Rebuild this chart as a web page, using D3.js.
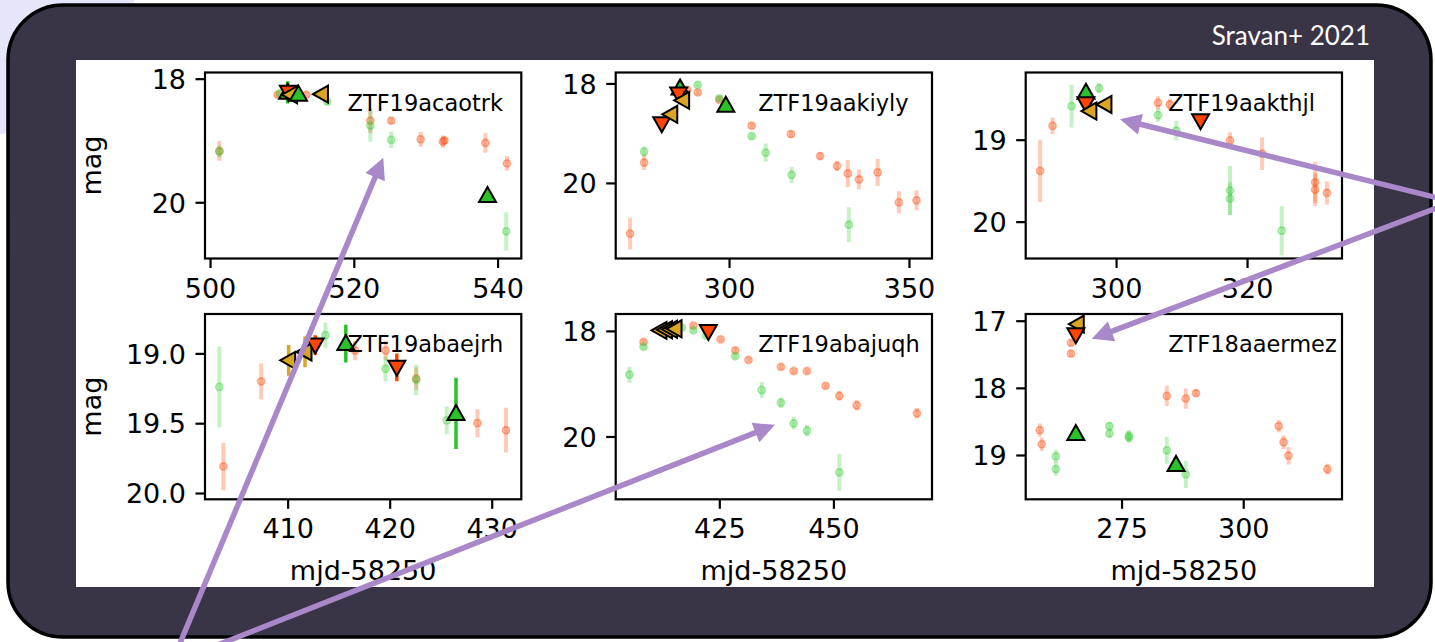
<!DOCTYPE html>
<html>
<head>
<meta charset="utf-8">
<script src="https://cdn.jsdelivr.net/npm/d3@7"></script>
<style>
  html, body { margin: 0; padding: 0; background: #fff; }
  svg { display: block; }
</style>
</head>
<body>
<svg id="c" width="1435" height="642"></svg>
<script>
// ---------------- data ----------------
const names = ["ZTF19acaotrk", "ZTF19aakiyly", "ZTF19aakthjl",
               "ZTF19abaejrh", "ZTF19abajuqh", "ZTF18aaermez"];

const xDomains = [[499.3, 543.3], [268.5, 356.4], [286.2, 334.5],
                  [401.9, 432.9], [402.3, 471.6], [255.3, 320.3]];
const yDomains = [[17.90, 20.91], [17.78, 21.52], [18.18, 20.45],
                  [18.718, 20.045], [17.68, 21.19], [16.90, 19.66]];

const xTickVals = [[500, 520, 540], [300, 350], [300, 320],
                   [410, 420, 430], [425, 450], [275, 300]];
const yTickVals = [[18, 20], [18, 20], [19, 20],
                   [19.0, 19.5, 20.0], [18, 20], [17, 18, 19]];
const yTickFormats = ["d", "d", "d", ".1f", "d", "d"];

// photometry rows: [mjd-58250, mag, err]
const acaotrk_r = [[501.3,19.17,0.16],[509.4,18.26,0.05],[513.4,18.26,0.05],[522.3,18.68,0.20],
  [525.2,18.68,0.05],[529.3,18.98,0.12],[532.4,19.02,0.10],[532.6,19.00,0.06],[538.3,19.04,0.16],[541.3,19.37,0.12]];
const acaotrk_g = [[501.3,19.18,0.10],[509.7,18.24,0.05],[516.3,18.37,0.05],[522.3,18.76,0.26],
  [525.2,18.99,0.13],[538.6,19.93,0.04],[541.2,20.47,0.31]];
const acaotrk_tri = [["up",510.8,18.22,0.18],["down",510.9,18.22,0],["left",511.2,18.26,0],
  ["up",512.3,18.25,0],["left",515.5,18.25,0],["up",538.6,19.89,0]];

const aakiyly_r = [[272.5,21.02,0.32],[276.4,19.59,0.15],[288.4,18.13,0.05],[291.3,18.18,0.05],
  [297.3,18.33,0.05],[306.3,18.85,0.06],[317.2,19.02,0.07],[325.3,19.46,0.07],[330.0,19.66,0.10],
  [333.0,19.81,0.27],[336.1,19.93,0.20],[341.3,19.79,0.27],[347.2,20.39,0.22],[352.1,20.35,0.20]];
const aakiyly_g = [[276.4,19.37,0.10],[291.3,18.03,0.05],[297.3,18.30,0.05],[306.3,19.06,0.06],
  [310.2,19.39,0.18],[317.4,19.84,0.16],[333.3,20.84,0.35]];
const aakiyly_tri = [["down",281.3,18.81,0],["left",283.8,18.62,0],["up",286.4,18.09,0],
  ["down",286.0,18.21,0],["left",287.1,18.34,0],["up",299.1,18.44,0]];

const aakthjl_r = [[288.4,19.38,0.38],[290.3,18.83,0.10],[306.4,18.55,0.08],[308.2,18.57,0.07],
  [317.4,19.01,0.10],[322.3,19.17,0.20],[330.4,19.52,0.25],[330.4,19.61,0.20],[332.2,19.65,0.14]];
const aakthjl_g = [[293.2,18.59,0.26],[297.4,18.37,0.06],[306.4,18.70,0.08],[309.2,18.89,0.12],
  [317.4,19.62,0.30],[317.4,19.72,0.20],[325.3,20.11,0.30]];
const aakthjl_tri = [["up",295.4,18.42,0],["down",295.4,18.56,0],["left",296.0,18.65,0],
  ["left",298.3,18.57,0],["down",312.9,18.77,0]];

const abaejrh_r = [[403.7,19.81,0.17],[407.4,19.20,0.13],[416.6,18.98,0.07],[419.6,18.98,0.07],
  [422.6,19.18,0.08],[428.6,19.50,0.10],[431.4,19.55,0.16]];
const abaejrh_g = [[403.3,19.24,0.29],[413.7,18.87,0.09],[419.6,19.11,0.09],[422.6,19.19,0.11],
  [425.6,19.48,0.10]];
const abaejrh_tri = [["left",410.1,19.05,0.11],["left",411.7,18.99,0.11],["down",412.7,18.94,0.07],
  ["up",415.7,18.93,0.135],["down",420.7,19.10,0.10],["up",426.5,19.43,0.255]];

const abajuqh_r = [[408.4,18.21,0.05],[419.3,17.90,0.04],[425.3,18.16,0.04],[428.5,18.37,0.05],
  [431.4,18.55,0.05],[438.5,18.68,0.05],[441.3,18.76,0.05],[444.2,18.76,0.05],[448.3,19.04,0.05],
  [451.3,19.23,0.09],[455.1,19.41,0.10],[468.3,19.56,0.10]];
const abajuqh_g = [[405.3,18.83,0.15],[408.4,18.30,0.05],[416.8,17.94,0.04],[419.3,17.99,0.04],
  [422.1,18.09,0.04],[428.5,18.48,0.05],[434.3,19.12,0.15],[438.5,19.36,0.10],[441.3,19.75,0.12],
  [444.2,19.89,0.11],[451.3,20.68,0.35]];
const abajuqh_tri = [["left",412.0,17.99,0],["left",413.2,17.98,0],["left",414.3,17.97,0],
  ["left",415.3,17.96,0],["down",422.6,18.01,0]];

const aaermez_r = [[258.2,18.63,0.10],[258.6,18.84,0.10],[264.6,17.33,0.05],[264.6,17.49,0.05],
  [284.3,18.12,0.15],[288.2,18.16,0.15],[290.3,18.08,0.05],[307.3,18.57,0.09],[308.3,18.81,0.10],
  [309.3,19.01,0.13],[317.3,19.21,0.08]];
const aaermez_g = [[261.5,19.02,0.10],[261.5,19.21,0.10],[272.5,18.57,0.06],[272.5,18.68,0.06],
  [276.5,18.71,0.08],[276.5,18.74,0.08],[284.3,18.93,0.20],[288.2,19.29,0.20]];
const aaermez_tri = [["left",265.9,17.05,0],["down",265.6,17.21,0],["up",265.6,18.68,0],
  ["up",286.2,19.14,0]];

const rBand = [acaotrk_r, aakiyly_r, aakthjl_r, abaejrh_r, abajuqh_r, aaermez_r];
const gBand = [acaotrk_g, aakiyly_g, aakthjl_g, abaejrh_g, abajuqh_g, aaermez_g];
const triMarks = [acaotrk_tri, aakiyly_tri, aakthjl_tri, abaejrh_tri, abajuqh_tri, aaermez_tri];

// arrow tips in the data coordinates of the panel they point into: [panel, mjd, mag]
const arrowTips = [[0, 524.1, 19.28], [4, 437.2, 19.78], [2, 300.6, 18.75], [5, 268.9, 17.27]];

// ---------------- layout ----------------
const colLeft = [205, 615.7, 1025.7];
const rowTop = [72.5, 314];
const axW = 316.3;
const rowH = [186, 185.3];
const FONT = "DejaVu Sans";
const TICK = 27;
const triColor = { up: "#29c229", down: "#ff4500", left: "#daa520" };
const rColor = "#ff4500", gColor = "#32cd32";

const svg = d3.select("#c");

// slide backdrop
svg.append("circle").attr("cx", 0).attr("cy", 0).attr("r", 134).attr("fill", "#e6e6fa");
svg.append("rect")
  .attr("x", 8).attr("y", 5).attr("width", 1423).attr("height", 632).attr("rx", 55)
  .attr("fill", "#393546").attr("stroke", "#000").attr("stroke-width", 3.5);
svg.append("rect").attr("x", 76).attr("y", 60).attr("width", 1298).attr("height", 527).attr("fill", "#fff");
svg.append("text")
  .attr("x", 1370).attr("y", 45).attr("text-anchor", "end")
  .attr("font-family", "Lato").attr("font-size", 26).attr("fill", "#fff")
  .text("Sravan+ 2021");

const defs = svg.append("defs");
const scales = [];

function triPath(kind) {
  const a = 8.5, b = 6.5;
  if (kind === "up") return `M0,${-a}L${a},${b}L${-a},${b}Z`;
  if (kind === "down") return `M0,${a}L${a},${-b}L${-a},${-b}Z`;
  return `M${-a},0L${b},${-a}L${b},${a}Z`;
}

names.forEach((name, i) => {
  const col = i % 3, row = Math.floor(i / 3);
  const left = colLeft[col], top = rowTop[row], h = rowH[row];
  const x = d3.scaleLinear().domain(xDomains[i]).range([left, left + axW]);
  const y = d3.scaleLinear().domain(yDomains[i]).range([top, top + h]);
  scales.push({ x, y });

  defs.append("clipPath").attr("id", "clip" + i)
    .append("rect").attr("x", left).attr("y", top).attr("width", axW).attr("height", h);

  const g = svg.append("g");
  const data = g.append("g").attr("clip-path", `url(#clip${i})`);

  // photometry points with error bars
  [[rBand[i], rColor], [gBand[i], gColor]].forEach(([pts, color]) => {
    data.selectAll(null).data(pts).join("line")
      .attr("x1", d => x(d[0])).attr("x2", d => x(d[0]))
      .attr("y1", d => y(d[1] - d[2])).attr("y2", d => y(d[1] + d[2]))
      .attr("stroke", color).attr("stroke-opacity", 0.28).attr("stroke-width", 4);
    data.selectAll(null).data(pts).join("circle")
      .attr("cx", d => x(d[0])).attr("cy", d => y(d[1])).attr("r", 3.6)
      .attr("fill", color).attr("fill-opacity", 0.28)
      .attr("stroke", color).attr("stroke-opacity", 0.38).attr("stroke-width", 1.6);
  });

  // triangle markers
  const tris = triMarks[i];
  data.selectAll(null).data(tris.filter(d => d[3] > 0)).join("line")
    .attr("x1", d => x(d[1])).attr("x2", d => x(d[1]))
    .attr("y1", d => y(d[2] - d[3])).attr("y2", d => y(d[2] + d[3]))
    .attr("stroke", d => triColor[d[0]]).attr("stroke-width", 3.5);
  data.selectAll(null).data(tris).join("path")
    .attr("transform", d => `translate(${x(d[1])},${y(d[2])})`)
    .attr("d", d => triPath(d[0]))
    .attr("fill", d => triColor[d[0]])
    .attr("stroke", "#000").attr("stroke-width", 2).attr("stroke-linejoin", "miter");

  // frame
  g.append("rect").attr("x", left).attr("y", top).attr("width", axW).attr("height", h)
    .attr("fill", "none").attr("stroke", "#000").attr("stroke-width", 2.2);

  // axes
  const xa = g.append("g").attr("transform", `translate(0,${top + h})`)
    .call(d3.axisBottom(x).tickValues(xTickVals[i]).tickFormat(d3.format("d"))
      .tickSize(9.5).tickSizeOuter(0).tickPadding(10.5));
  const ya = g.append("g").attr("transform", `translate(${left},0)`)
    .call(d3.axisLeft(y).tickValues(yTickVals[i]).tickFormat(d3.format(yTickFormats[i]))
      .tickSize(9.5).tickSizeOuter(0).tickPadding(9.5));
  [xa, ya].forEach(a => {
    a.attr("font-family", FONT).attr("font-size", TICK);
    a.select(".domain").remove();
    a.selectAll(".tick line").attr("stroke", "#000").attr("stroke-width", 2.2);
    a.selectAll(".tick text").attr("fill", "#000");
  });
  ya.selectAll(".tick text").attr("dy", "0.36em");

  if (col === 0) {
    g.append("text")
      .attr("transform", `translate(101,${top + h / 2}) rotate(-90)`)
      .attr("text-anchor", "middle").attr("font-family", FONT).attr("font-size", TICK)
      .text("mag");
  }
  if (row === 1) {
    g.append("text")
      .attr("x", left + axW / 2).attr("y", 580).attr("text-anchor", "middle")
      .attr("font-family", FONT).attr("font-size", TICK)
      .text("mjd-58250");
  }

  // object name
  g.append("text")
    .attr("x", left + 142.5).attr("y", top + 38)
    .attr("font-family", FONT).attr("font-size", 22.5)
    .text(name);
});

// pointing arrows
const arrowTails = [[178, 648], [210, 648], [1442, 199], [1442, 206]];
const arrowColor = "#a888c9";
arrowTips.forEach((tip, k) => {
  const s = scales[tip[0]];
  const tx = s.x(tip[1]), ty = s.y(tip[2]);
  const [sx, sy] = arrowTails[k];
  const len = Math.hypot(tx - sx, ty - sy);
  const ux = (tx - sx) / len, uy = (ty - sy) / len;
  const L = 21, W = 10.5;
  const bx = tx - ux * L, by = ty - uy * L;
  svg.append("line")
    .attr("x1", sx).attr("y1", sy).attr("x2", bx + ux * 2).attr("y2", by + uy * 2)
    .attr("stroke", arrowColor).attr("stroke-width", 5.5);
  svg.append("path")
    .attr("d", `M${tx},${ty}L${bx - uy * W},${by + ux * W}L${bx + uy * W},${by - ux * W}Z`)
    .attr("fill", arrowColor);
});
</script>
</body>
</html>
